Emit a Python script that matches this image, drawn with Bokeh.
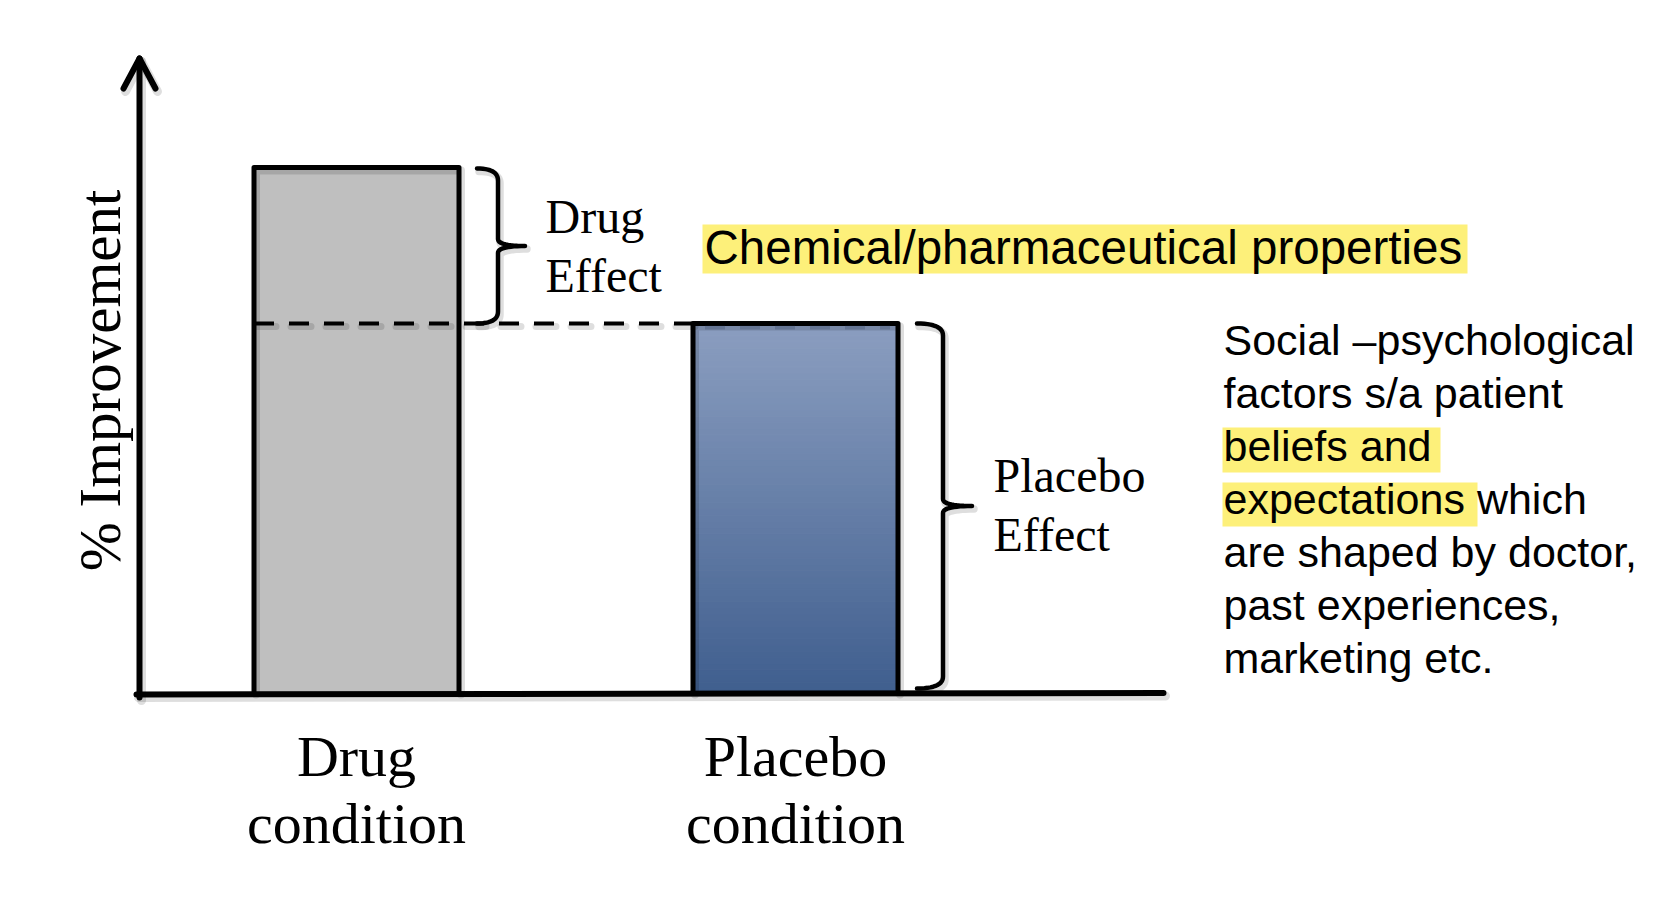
import numpy as np
from bokeh.plotting import figure
from bokeh.models import Range1d
from bokeh.core.properties import value
from bokeh.embed import file_html
from bokeh.resources import INLINE

# ---------------- data ----------------
categories = ["Drug condition", "Placebo condition"]
category_lines = [["Drug", "condition"], ["Placebo", "condition"]]
improvement = [100.0, 70.4]          # relative % improvement (no ticks in original)
y_label = "% Improvement"
drug_effect_lines = ["Drug", "Effect"]
placebo_effect_lines = ["Placebo", "Effect"]
top_note = "Chemical/pharmaceutical properties"
side_note_lines = [
    "Social \u2013psychological",
    "factors s/a patient",
    "beliefs and",
    "expectations which",
    "are shaped by doctor,",
    "past experiences,",
    "marketing etc.",
]

# ---------------- layout (pixels) ----------------
W, H = 1668, 902
X0PX, XSTEP = 356.0, 439.0     # pixel of category 0 centre, pixels per category
Y0PX, YSCALE = 694.0, 5.27     # pixel row of baseline, pixels per % unit
BARW_PX = 205.0
BASE_SHIFT = 0.37              # empirical correction of the alphabetic baseline

def fx(xp):            # pixel column -> data x
    return (xp - X0PX) / XSTEP

def fy(yp):            # pixel row (from top) -> data y
    return (Y0PX - yp) / YSCALE

def px_of_x(x):
    return X0PX + x * XSTEP

def py_of_y(y):
    return Y0PX - y * YSCALE

p = figure(width=W, height=H,
           x_range=Range1d(fx(0), fx(W)), y_range=Range1d(fy(H), fy(0)),
           x_axis_type=None, y_axis_type=None, min_border=0,
           toolbar_location=None, output_backend="svg",
           outline_line_color=None, background_fill_color="white",
           border_fill_color="white")
p.xgrid.visible = False
p.ygrid.visible = False

SERIF = value("Liberation Serif")
SANS = value("Liberation Sans")


def sline(xs_px, ys_px, width, color="black", dash="solid", shadow=True, alpha=1.0):
    xs = [fx(v) for v in xs_px]
    ys = [fy(v) for v in ys_px]
    if shadow:
        p.line([fx(v + 2) for v in xs_px], [fy(v + 3) for v in ys_px],
               line_color="black", line_alpha=0.13, line_width=width + 3,
               line_join="round", line_cap="round", line_dash=dash)
    p.line(xs, ys, line_color=color, line_width=width, line_alpha=alpha,
           line_join="round", line_cap="round" if dash == "solid" else "butt",
           line_dash=dash)


def quad_curve(p0, c, p1, n=14):
    t = np.linspace(0, 1, n)
    xs = (1 - t) ** 2 * p0[0] + 2 * (1 - t) * t * c[0] + t ** 2 * p1[0]
    ys = (1 - t) ** 2 * p0[1] + 2 * (1 - t) * t * c[1] + t ** 2 * p1[1]
    return list(xs), list(ys)


def brace(x0, xv, xt, yt, yb, r=12, r2=7):
    ym = (yt + yb) / 2
    X, Y = [], []
    for seg in [((x0, yt), (xv, yt), (xv, yt + r)),
                ((xv, ym - r2), (xv, ym), (xt, ym)),
                ((xt, ym), (xv, ym), (xv, ym + r2)),
                ((xv, yb - r), (xv, yb), (x0, yb))]:
        a, b = quad_curve(*seg)
        X += a
        Y += b
    sline(X, Y, 4.5)


def label(x_px, base_px, s, font, size, align="left"):
    p.text(x=[fx(x_px)], y=[fy(base_px - BASE_SHIFT * size)], text=[s],
           text_font=font, text_font_size=value(f"{size}px"),
           text_align=align, text_baseline="alphabetic", text_color="black")


# ---------------- highlight boxes ----------------
hl = "#FDF07A"
p.quad(left=[fx(702)], right=[fx(1467)], top=[fy(224)], bottom=[fy(273)],
       fill_color=hl, line_color=None)
p.quad(left=[fx(1222), fx(1222)], right=[fx(1440), fx(1477)],
       top=[fy(427), fy(482)], bottom=[fy(472), fy(526)],
       fill_color=hl, line_color=None)

# ---------------- bars ----------------
bw = BARW_PX / XSTEP
xs_cat = list(range(len(categories)))

# gradient fill for the placebo bar
top_rgb = np.array([139, 158, 192])
bot_rgb = np.array([63, 94, 142])
N = 60
edges = np.linspace(0, improvement[1], N + 1)
cols = []
for i in range(N):
    t = (i + 0.5) / N
    c = (bot_rgb * (1 - t) + top_rgb * t).round().astype(int)
    cols.append("#%02x%02x%02x" % tuple(c))
p.quad(left=[1 - bw / 2] * N, right=[1 + bw / 2] * N,
       bottom=list(edges[:-1]), top=list(edges[1:]),
       fill_color=cols, line_color=cols, line_width=1.2)

# drug bar fill
p.vbar(x=[xs_cat[0]], top=[improvement[0]], bottom=0, width=bw,
       fill_color="#BFBFBF", line_color=None)

# bar outlines (with soft shadow)
for i, v in enumerate(improvement):
    l = px_of_x(xs_cat[i]) - BARW_PX / 2
    r = px_of_x(xs_cat[i]) + BARW_PX / 2
    t = py_of_y(v)
    b = Y0PX - 3
    sline([l, l, r, r], [b, t, t, b], 5)

# dashed reference line at the placebo level
yd = py_of_y(improvement[1])
drug_left = px_of_x(0) - BARW_PX / 2
plac_left = px_of_x(1) - BARW_PX / 2
plac_right = px_of_x(1) + BARW_PX / 2
sline([drug_left, plac_left], [yd, yd], 4, dash="20 15")
p.line([fx(plac_left + 12), fx(plac_right - 8)], [fy(yd + 4), fy(yd + 4)],
       line_color="#2a3a5a", line_alpha=0.25, line_width=4, line_dash="20 15")

# ---------------- axes (arrow + baseline) ----------------
sline([139, 139], [Y0PX + 3, 58], 6)
sline([123, 139, 155], [88, 58, 88], 6)
sline([136, 1163], [Y0PX, Y0PX - 1.5], 6)

# ---------------- braces ----------------
drug_right = px_of_x(0) + BARW_PX / 2
brace(drug_right + 18, drug_right + 39, drug_right + 66,
      py_of_y(improvement[0]) + 1, py_of_y(improvement[1]))
brace(plac_right + 19, plac_right + 45, plac_right + 74,
      py_of_y(improvement[1]), Y0PX - 6)

# ---------------- texts ----------------
for i, lines in enumerate(category_lines):
    for j, s in enumerate(lines):
        label(px_of_x(xs_cat[i]), 777 + 67 * j, s, SERIF, 58, align="center")

# y label (rotated; baseline correction applied along x)
ysz = 59
p.text(x=[fx(121 - BASE_SHIFT * ysz)], y=[fy(380)], text=[y_label], angle=np.pi / 2,
       text_font=SERIF, text_font_size=value(f"{ysz}px"),
       text_align="center", text_baseline="alphabetic", text_color="black")

for j, s in enumerate(drug_effect_lines):
    label(545, 234 + 59 * j, s, SERIF, 48)
for j, s in enumerate(placebo_effect_lines):
    label(993, 493 + 59 * j, s, SERIF, 48)

label(704, 265, top_note, SANS, 47.5)

for j, s in enumerate(side_note_lines):
    label(1223, 355 + 53 * j, s, SANS, 43)

open("out.html", "w").write(file_html(p, INLINE))
